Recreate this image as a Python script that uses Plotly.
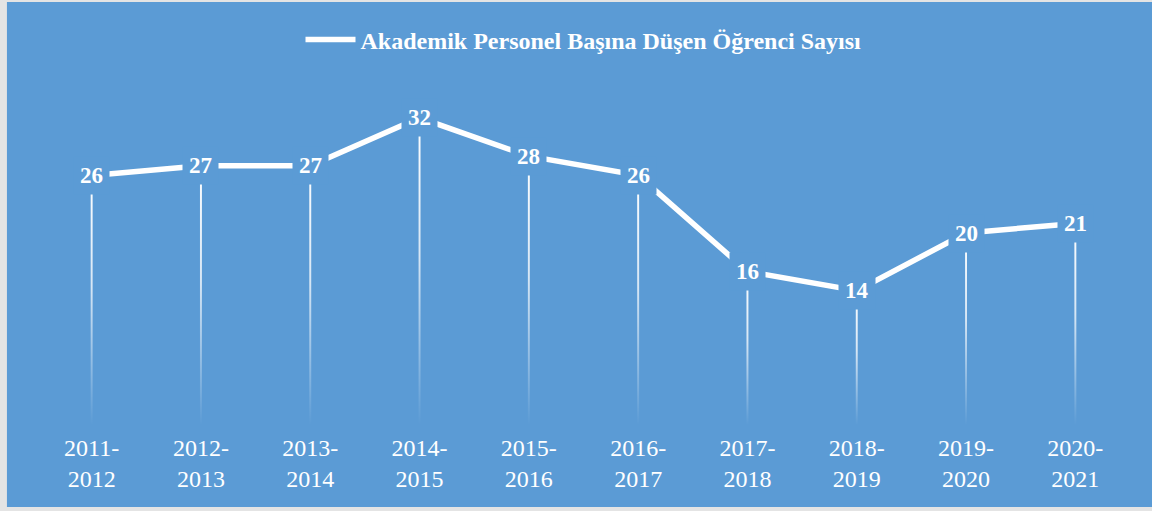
import plotly.graph_objects as go

# ---- data ----
categories = ["2011-<br>2012", "2012-<br>2013", "2013-<br>2014", "2014-<br>2015", "2015-<br>2016",
              "2016-<br>2017", "2017-<br>2018", "2018-<br>2019", "2019-<br>2020", "2020-<br>2021"]
values = [26, 27, 27, 32, 28, 26, 16, 14, 20, 21]
series_name = "Akademik Personel Başına Düşen Öğrenci Sayısı"

BG = "#5B9BD5"
SERIF = "Liberation Serif, Times New Roman, serif"

fig = go.Figure()
xs = list(range(len(categories)))

# gradient drop lines (one thin filled polygon per category)
hw = 0.009
for i, v in zip(xs, values):
    fig.add_trace(go.Scatter(
        x=[i - hw, i + hw, i + hw, i - hw, i - hw],
        y=[0, 0, v, v, 0],
        mode="lines", line=dict(width=0),
        fill="toself",
        fillgradient=dict(type="vertical",
                          colorscale=[[0, "rgba(255,255,255,0.0)"],
                                      [0.55, "rgba(255,255,255,0.75)"],
                                      [1, "rgba(255,255,255,1)"]]),
        showlegend=False, hoverinfo="skip"))

# main line
fig.add_trace(go.Scatter(
    x=xs, y=values, mode="lines", name=series_name,
    line=dict(color="white", width=5.5), showlegend=True))

# data labels with background boxes
for i, v in zip(xs, values):
    fig.add_annotation(x=i, y=v, text=str(v), showarrow=False,
                       font=dict(family=SERIF, size=23, color="white", weight="bold"),
                       bgcolor=BG, borderpad=6, xanchor="center", yanchor="middle")

# chart frame (blue area inside a light grey border)
fig.add_shape(type="rect", xref="paper", yref="paper",
              x0=-0.0275, x1=1.03, y0=-0.244, y1=1.259,
              fillcolor=BG, line=dict(width=0), layer="below")

fig.update_layout(
    width=1152, height=511,
    margin=dict(l=37, r=22, t=89, b=86),
    paper_bgcolor="#E4E4E4", plot_bgcolor="rgba(0,0,0,0)",
    showlegend=True,
    legend=dict(orientation="h", x=0.5, xanchor="center", y=1.146, yanchor="middle",
                itemwidth=50,
                font=dict(family=SERIF, size=24, color="white", weight="bold"),
                bgcolor="rgba(0,0,0,0)"),
    xaxis=dict(range=[-0.5, len(categories) - 0.5], tickmode="array", tickvals=xs,
               ticktext=categories, showgrid=False, zeroline=False, showline=False,
               ticks="", ticklabelstandoff=6,
               tickfont=dict(family=SERIF, size=24, color="white")),
    yaxis=dict(range=[0, 35], visible=False, showgrid=False, zeroline=False),
)

fig.write_html("out.html", config={"displayModeBar": False},
               post_script="document.body.style.margin='0';document.documentElement.style.overflow='hidden';")
